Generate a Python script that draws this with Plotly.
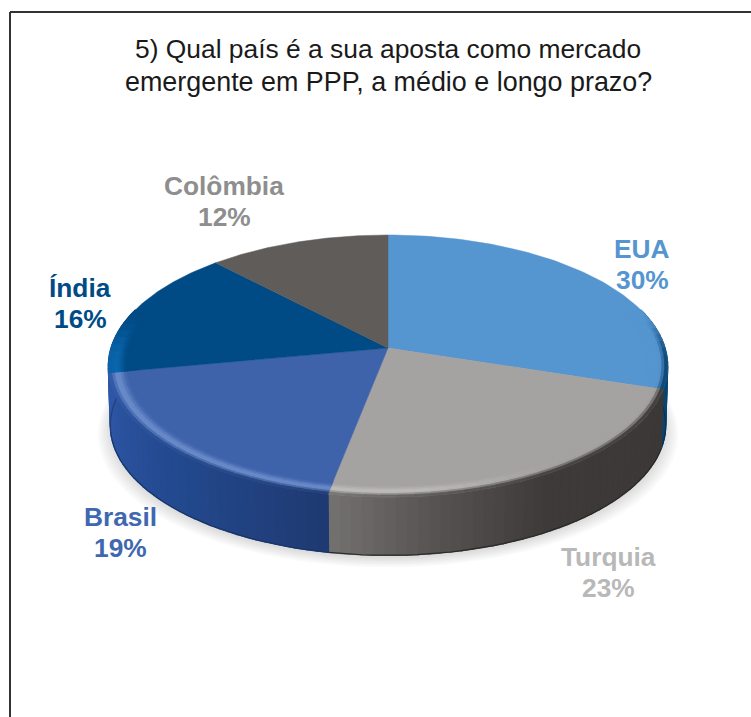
import numpy as np
import plotly.graph_objects as go

categories = ["EUA", "Turquia", "Brasil", "Índia", "Colômbia"]
values = [30, 23, 19, 16, 12]
title_lines = ["5) Qual país é a sua aposta como mercado", "emergente em PPP, a médio e longo prazo?"]

top_colors = ["#5595d0", "#a5a3a1", "#3f63ab", "#004b85", "#5f5c5a"]
label_colors = ["#5595d0", "#b8b8b8", "#3f68b0", "#004b85", "#8e8e8e"]
highlight_colors = ["#5595d0", "#bfbdbb", "#6a8cca", "#0a66ad", "#5f5c5a"]
label_pos = [(642, 249), (608, 557), (120, 517), (80, 288), (224, 186)]
# wall colour stops: (degrees clockwise from top, colour)
wall_stops = [
    [(60, "#0a4a7c"), (108, "#0a4470")],
    [(108, "#3b3837"), (150, "#3d3a39"), (172, "#565352"), (191, "#747270")],
    [(191, "#1f3a72"), (225, "#234a90"), (259, "#2f57a6")],
    [(259, "#0a62a8"), (300, "#0a62a8")],
    [(317, "#444"), (360, "#444")],
]

CX, CY, RX, A, K = 388.0, 348.0, 277.0, 128.5, 0.137
BOT_F, BOT_Y = 0.993, 407.5
BEVEL_R0 = 0.92


def hex2rgb(h):
    h = h.lstrip("#")
    if len(h) == 3:
        h = "".join(ch * 2 for ch in h)
    return np.array([int(h[i:i + 2], 16) for i in (0, 2, 4)], dtype=float)


def mix(a, b, t):
    return a + (b - a) * t


def css(c):
    c = np.clip(np.round(c), 0, 255).astype(int)
    return f"rgb({c[0]},{c[1]},{c[2]})"


def smooth(e0, e1, x):
    t = np.clip((x - e0) / (e1 - e0), 0, 1)
    return t * t * (3 - 2 * t)


def proj(deg, r=1.0, f=1.0, y0=CY):
    th = np.radians(deg)
    s, c = r * np.sin(th), -r * np.cos(th)
    w = 1 - K * c
    return CX + f * RX * s / w, y0 + f * A * c / w


def wall_color(i, deg):
    st = wall_stops[i]
    d = [p[0] for p in st]
    cols = np.array([hex2rgb(p[1]) for p in st])
    return np.array([np.interp(deg, d, cols[:, k]) for k in range(3)])


def poly(fig, xs, ys, color, lw=0.6):
    xs, ys = list(xs), list(ys)
    fig.add_trace(go.Scatter(x=xs + xs[:1], y=ys + ys[:1], mode="lines", fill="toself", fillcolor=color,
                             line=dict(color=color, width=lw), hoverinfo="skip", showlegend=False))


fig = go.Figure()

# soft shadow below the pie
dense = np.linspace(0, 360, 181)
for t in np.linspace(1, 0, 7):
    th = np.radians(dense)
    s, c = np.sin(th), -np.cos(th)
    w = 1 - K * c
    xs = CX + (BOT_F + 0.045 * t) * RX * s / w
    ys = (BOT_Y + 3 + 6 * t) + (BOT_F + 0.02 * t) * A * c / w
    poly(fig, xs, ys, "rgba(0,0,0,0.02)", 0)

total = sum(values)
edges = np.concatenate([[0], np.cumsum(values)]) * 360.0 / total

# side wall (the lower left of the wall behind the India slice takes the Brasil colour)
for i in range(len(values)):
    a, b = max(edges[i], 72), min(edges[i + 1], 288)
    if b <= a:
        continue
    n = max(2, int((b - a) / 2))
    ds = np.linspace(a, b, n + 1)
    owner = 2 if i == 3 else i
    for d0, d1 in zip(ds[:-1], ds[1:]):
        x0, y0 = proj(d0)
        x1, y1 = proj(d1)
        x2, y2 = proj(d1, f=BOT_F, y0=BOT_Y)
        x3, y3 = proj(d0, f=BOT_F, y0=BOT_Y)
        poly(fig, [x0, x1, x2, x3], [y0, y1, y2, y3], css(wall_color(owner, (d0 + d1) / 2)), 1.4)
    arc = np.linspace(a, b, n + 1)
    bx, by = proj(arc, f=BOT_F, y0=BOT_Y)
    fig.add_trace(go.Scatter(x=bx, y=by, mode="lines", hoverinfo="skip", showlegend=False,
                             line=dict(color=css(wall_color(owner, (a + b) / 2) * 0.72), width=1.2)))

# top faces
for i in range(len(values)):
    arc = np.linspace(edges[i], edges[i + 1], 80)
    x, y = proj(arc)
    poly(fig, [CX] + list(x), [CY] + list(y), top_colors[i], 0.5)

# bevelled rim on the front of the top face
rings = np.linspace(BEVEL_R0, 1.0, 9)
for i in range(len(values)):
    a, b = max(edges[i], 72), min(edges[i + 1], 288)
    if b <= a:
        continue
    top = hex2rgb(top_colors[i])
    hi = hex2rgb(highlight_colors[i])
    n = max(2, int((b - a) / 3))
    ds = np.linspace(a, b, n + 1)
    for d0, d1 in zip(ds[:-1], ds[1:]):
        dm = (d0 + d1) / 2
        cm = -np.cos(np.radians(dm))
        fade = smooth(-0.3, 0.1, cm)
        # the grey slice loses its highlight toward the right-hand side
        hl = smooth(145, 180, dm) if i == 1 else 1.0
        hi_eff = mix(top, hi, hl)
        wall = wall_color(i, dm)
        for r0, r1 in zip(rings[:-1], rings[1:]):
            u = ((r0 + r1) / 2 - BEVEL_R0) / (1 - BEVEL_R0)
            col = mix(top, hi_eff, smooth(0.2, 0.65, u)) if u < 0.65 else mix(hi_eff, wall, smooth(0.65, 1.0, u))
            col = mix(top, col, fade)
            xa, ya = proj(d0, r0)
            xb, yb = proj(d1, r0)
            xc, yc = proj(d1, r1)
            xd, yd = proj(d0, r1)
            poly(fig, [xa, xb, xc, xd], [ya, yb, yc, yd], css(col), 0.9)

# labels
for name, v, col, (lx, ly) in zip(categories, values, label_colors, label_pos):
    for k, line in enumerate([name, f"{v}%"]):
        fig.add_annotation(x=lx, y=ly + 31 * k, text=line, showarrow=False,
                           font=dict(family="Liberation Sans", size=26.3, color=col, weight="bold"))
for k, (line, size) in enumerate(zip(title_lines, [26.4, 26.9])):
    fig.add_annotation(x=388, y=49 + 33 * k, text=line, showarrow=False,
                       font=dict(family="Liberation Sans", size=size, color="#1a1a1a"))

# frame
frame = dict(color="#333333", width=2)
fig.add_shape(type="line", x0=10, x1=751, y0=12, y1=12, line=frame)
fig.add_shape(type="line", x0=10, x1=10, y0=12, y1=717, line=frame)

fig.update_xaxes(visible=False, range=[0, 751], fixedrange=True)
fig.update_yaxes(visible=False, range=[717, 0], fixedrange=True)
fig.update_layout(width=751, height=717, margin=dict(l=0, r=0, t=0, b=0),
                  paper_bgcolor="white", plot_bgcolor="white", showlegend=False)
fig.write_html("out.html", config={"displayModeBar": False},
               post_script="document.body.style.margin='0';document.body.style.overflow='hidden';")
